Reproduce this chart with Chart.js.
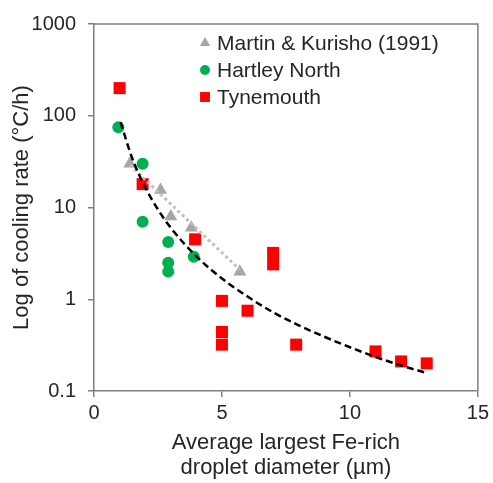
<!DOCTYPE html>
<html>
<head>
<meta charset="utf-8">
<script src="https://cdn.jsdelivr.net/npm/chart.js@4/dist/chart.umd.min.js"></script>
<style>
    html, body { margin: 0; padding: 0; background: #fff; }
    #wrap { width: 493px; height: 483px; }
</style>
</head>
<body>
<div id="wrap"><canvas id="chart" width="493" height="483"></canvas></div>
<script>
/**
 * 数据
 */
var xTicks = [0, 5, 10, 15];
var yTicks = [0.1, 1, 10, 100, 1000];

//Martin & Kurisho (1991)
var martinX = [1.4, 2.6, 3.0, 3.8, 5.7];
var martinY = [30, 15.5, 8, 6, 2.0];

//Hartley North
var hartleyX = [0.95, 1.9, 1.9, 2.9, 2.9, 2.9, 3.9];
var hartleyY = [75, 30, 7, 4.2, 2.5, 2.0, 2.9];

//Tynemouth
var tyneX = [1.0, 1.9, 3.95, 5.0, 5.0, 5.0, 6.0, 7.0, 7.0, 7.9, 11.0, 12.0, 13.0];
var tyneY = [200, 18, 4.5, 0.96, 0.44, 0.32, 0.75, 3.2, 2.4, 0.32, 0.27, 0.21, 0.2];

//虚线趋势
var fitX = [1.04, 1.5, 2.0, 2.5, 3.0, 4.0, 5.0, 6.0, 7.0, 8.0, 9.0, 10.0, 11.0, 12.0, 13.0];
var fitY = [85, 34, 16.6, 9.5, 6.0, 2.94, 1.68, 1.07, 0.72, 0.52, 0.39, 0.30, 0.235, 0.19, 0.157];

//点线趋势 (Martin & Kurisho)
var martinFitX = [1.4, 5.7];
var martinFitY = [29, 2.1];

function pts(xs, ys) {
    return xs.map(function (x, i) { return { x: x, y: ys[i] }; });
}

var textColor = '#262626';
var axisColor = '#7f7f7f';
var fontName = '"Liberation Sans", Arial, sans-serif';

//图例和外框
var boxPlugin = {
    id: 'boxPlugin',
    afterDraw: function (chart) {
        var ctx = chart.ctx;
        var a = chart.chartArea;
        ctx.save();
        ctx.strokeStyle = axisColor;
        ctx.lineWidth = 1.5;
        ctx.beginPath();
        ctx.moveTo(a.left, a.top);
        ctx.lineTo(a.right, a.top);
        ctx.lineTo(a.right, a.bottom);
        ctx.stroke();

        var items = [
            { text: 'Martin & Kurisho (1991)', style: 'triangle', color: '#a6a6a6', r: 6 },
            { text: 'Hartley North', style: 'circle', color: '#00b050', r: 5 },
            { text: 'Tynemouth', style: 'rect', color: '#ff0000', r: 7 }
        ];
        ctx.font = '21px ' + fontName;
        ctx.textBaseline = 'middle';
        ctx.fillStyle = textColor;
        items.forEach(function (it, i) {
            var y = 43 + i * 27;
            ctx.fillStyle = it.color;
            Chart.helpers.drawPoint(ctx, { pointStyle: it.style, radius: it.r, rotation: 0, borderWidth: 0 }, 205, y);
            ctx.fillStyle = textColor;
            ctx.fillText(it.text, 217, y + 1);
        });
        ctx.restore();
    }
};

var ctx = document.getElementById('chart').getContext('2d');
window.myChart = new Chart(ctx, {
    type: 'scatter',
    data: {
        datasets: [{
            label: 'fit',
            type: 'line',
            data: pts(fitX, fitY),
            borderColor: '#000000',
            borderWidth: 2.5,
            borderDash: [7, 4],
            pointRadius: 0,
            fill: false,
            tension: 0.4,
            cubicInterpolationMode: 'monotone',
            order: 0
        }, {
            label: 'martin fit',
            type: 'line',
            data: pts(martinFitX, martinFitY),
            borderColor: '#bfbfbf',
            borderWidth: 3,
            borderDash: [3, 3],
            pointRadius: 0,
            fill: false,
            order: 1
        }, {
            label: 'Martin & Kurisho (1991)',
            data: pts(martinX, martinY),
            pointStyle: 'triangle',
            pointRadius: 7.5,
            backgroundColor: '#a6a6a6',
            borderWidth: 0,
            order: 2
        }, {
            label: 'Hartley North',
            data: pts(hartleyX, hartleyY),
            pointStyle: 'circle',
            pointRadius: 6,
            backgroundColor: '#00b050',
            borderWidth: 0,
            order: 3
        }, {
            label: 'Tynemouth',
            data: pts(tyneX, tyneY),
            pointStyle: 'rect',
            pointRadius: 8.5,
            backgroundColor: '#ff0000',
            borderWidth: 0,
            order: 4
        }]
    },
    options: {
        responsive: false,
        animation: false,
        layout: {
            padding: { left: 0, top: 20, right: 14, bottom: 0 }
        },
        plugins: {
            legend: { display: false },
            tooltip: { enabled: false }
        },
        scales: {
            x: {
                type: 'linear',
                min: 0,
                max: 15,
                afterBuildTicks: function (scale) {
                    scale.ticks = xTicks.map(function (v) { return { value: v }; });
                },
                afterFit: function (scale) { scale.height = 92; },
                ticks: {
                    color: textColor,
                    font: { size: 20, family: fontName },
                    padding: 4,
                    maxRotation: 0
                },
                grid: {
                    drawOnChartArea: false,
                    drawTicks: true,
                    tickLength: 6,
                    color: axisColor,
                    lineWidth: 1.5
                },
                border: { color: axisColor, width: 1.5 },
                title: {
                    display: true,
                    text: ['Average largest Fe-rich', 'droplet diameter (µm)'],
                    color: textColor,
                    font: { size: 22, family: fontName, lineHeight: 1.15 },
                    padding: { top: 4, bottom: 2 }
                }
            },
            y: {
                type: 'logarithmic',
                min: 0.1,
                max: 1000,
                afterBuildTicks: function (scale) {
                    scale.ticks = yTicks.map(function (v) { return { value: v }; });
                },
                afterFit: function (scale) { scale.width = 94; },
                ticks: {
                    color: textColor,
                    font: { size: 20, family: fontName },
                    padding: 12,
                    callback: function (v) { return String(v); }
                },
                grid: {
                    drawOnChartArea: false,
                    drawTicks: true,
                    tickLength: 6,
                    color: axisColor,
                    lineWidth: 1.5
                },
                border: { color: axisColor, width: 1.5 },
                title: {
                    display: true,
                    text: 'Log of cooling rate (°C/h)',
                    color: textColor,
                    font: { size: 22, family: fontName },
                    padding: { top: 9, bottom: 0 }
                }
            }
        }
    },
    plugins: [boxPlugin]
});
</script>
</body>
</html>
